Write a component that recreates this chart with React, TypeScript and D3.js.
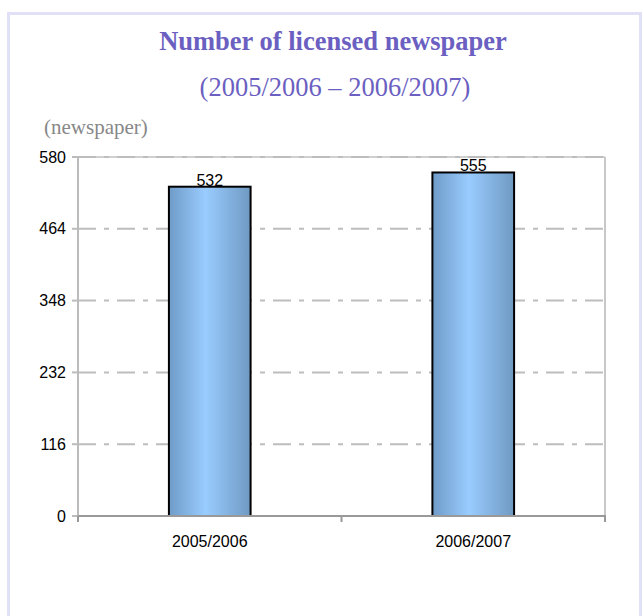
import React from "react";
import * as d3 from "d3";

const categories = ["2005/2006", "2006/2007"];
const values = [532, 555];
const yTicks = [0, 116, 232, 348, 464, 580];
const titleText = "Number of licensed newspaper";
const subtitleText = "(2005/2006 – 2006/2007)";
const unitText = "(newspaper)";

export default function App() {
  const W = 643, H = 616;
  const left = 78, right = 605, top = 157, bottom = 516;
  const x = d3.scaleBand().domain(categories).range([left, right]).paddingInner(0.69).paddingOuter(0.345);
  const y = d3.scaleLinear().domain([0, 580]).range([bottom, top]);
  const dash = "18,8,5,8";
  return (
    <svg width={W} height={H} style={{ position: "absolute", left: 0, top: 0 }} fontFamily="Liberation Sans, Arial, sans-serif">
      <defs>
        <linearGradient id="barGrad" x1="0" x2="1" y1="0" y2="0">
          <stop offset="0" stopColor="#6f9bc7" />
          <stop offset="0.45" stopColor="#99ccff" />
          <stop offset="1" stopColor="#6f99c2" />
        </linearGradient>
      </defs>
      <rect x={0} y={0} width={W} height={H} fill="#ffffff" />
      <rect x={8.5} y={13.5} width={632} height={H + 20} fill="none" stroke="#e0e0f6" strokeWidth={3} />
      <text x={333} y={50} textAnchor="middle" fontFamily="Liberation Serif, Times New Roman, serif" fontWeight="bold" fontSize={26.5} fill="#6b5fc1">{titleText}</text>
      <text x={335} y={96} textAnchor="middle" fontFamily="Liberation Serif, Times New Roman, serif" fontSize={26.5} fill="#6b5fc1">{subtitleText}</text>
      <text x={44} y={134} fontFamily="Liberation Serif, Times New Roman, serif" fontSize={21} fill="#888888">{unitText}</text>
      <line x1={left} x2={right} y1={top} y2={top} stroke="#d0d0d0" strokeWidth={2} />
      <line x1={right} x2={right} y1={top} y2={bottom} stroke="#c8c8c8" strokeWidth={2} />
      {yTicks.filter(t => t > 0).map(t => (
        <line key={"g" + t} x1={left} x2={right} y1={y(t)} y2={y(t)} stroke="#bdbdbd" strokeWidth={2} strokeDasharray={dash} />
      ))}
      <line x1={left} x2={left} y1={top} y2={bottom + 5} stroke="#bbbbbb" strokeWidth={2} />
      {yTicks.map(t => (
        <g key={"t" + t}>
          <line x1={left - 6} x2={left} y1={y(t)} y2={y(t)} stroke="#bbbbbb" strokeWidth={2} />
          <text x={66} y={y(t) + 5.5} textAnchor="end" fontSize={16} fill="#000">{t}</text>
        </g>
      ))}
      {categories.map((c, i) => (
        <g key={c}>
          <rect x={x(c)!} y={y(values[i])} width={x.bandwidth()} height={bottom - y(values[i])} fill="url(#barGrad)" stroke="#000" strokeWidth={2} />
          <text x={x(c)! + x.bandwidth() / 2} y={y(values[i]) - 1} textAnchor="middle" fontSize={16} fill="#000">{values[i]}</text>
          <text x={x(c)! + x.bandwidth() / 2} y={547} textAnchor="middle" fontSize={16} fill="#000">{c}</text>
        </g>
      ))}
      <line x1={left} x2={right + 1} y1={bottom} y2={bottom} stroke="#999999" strokeWidth={2} />
      {[left, (left + right) / 2, right].map((tx, i) => (
        <line key={"xt" + i} x1={tx} x2={tx} y1={bottom} y2={bottom + 6} stroke="#999999" strokeWidth={2} />
      ))}
    </svg>
  );
}
